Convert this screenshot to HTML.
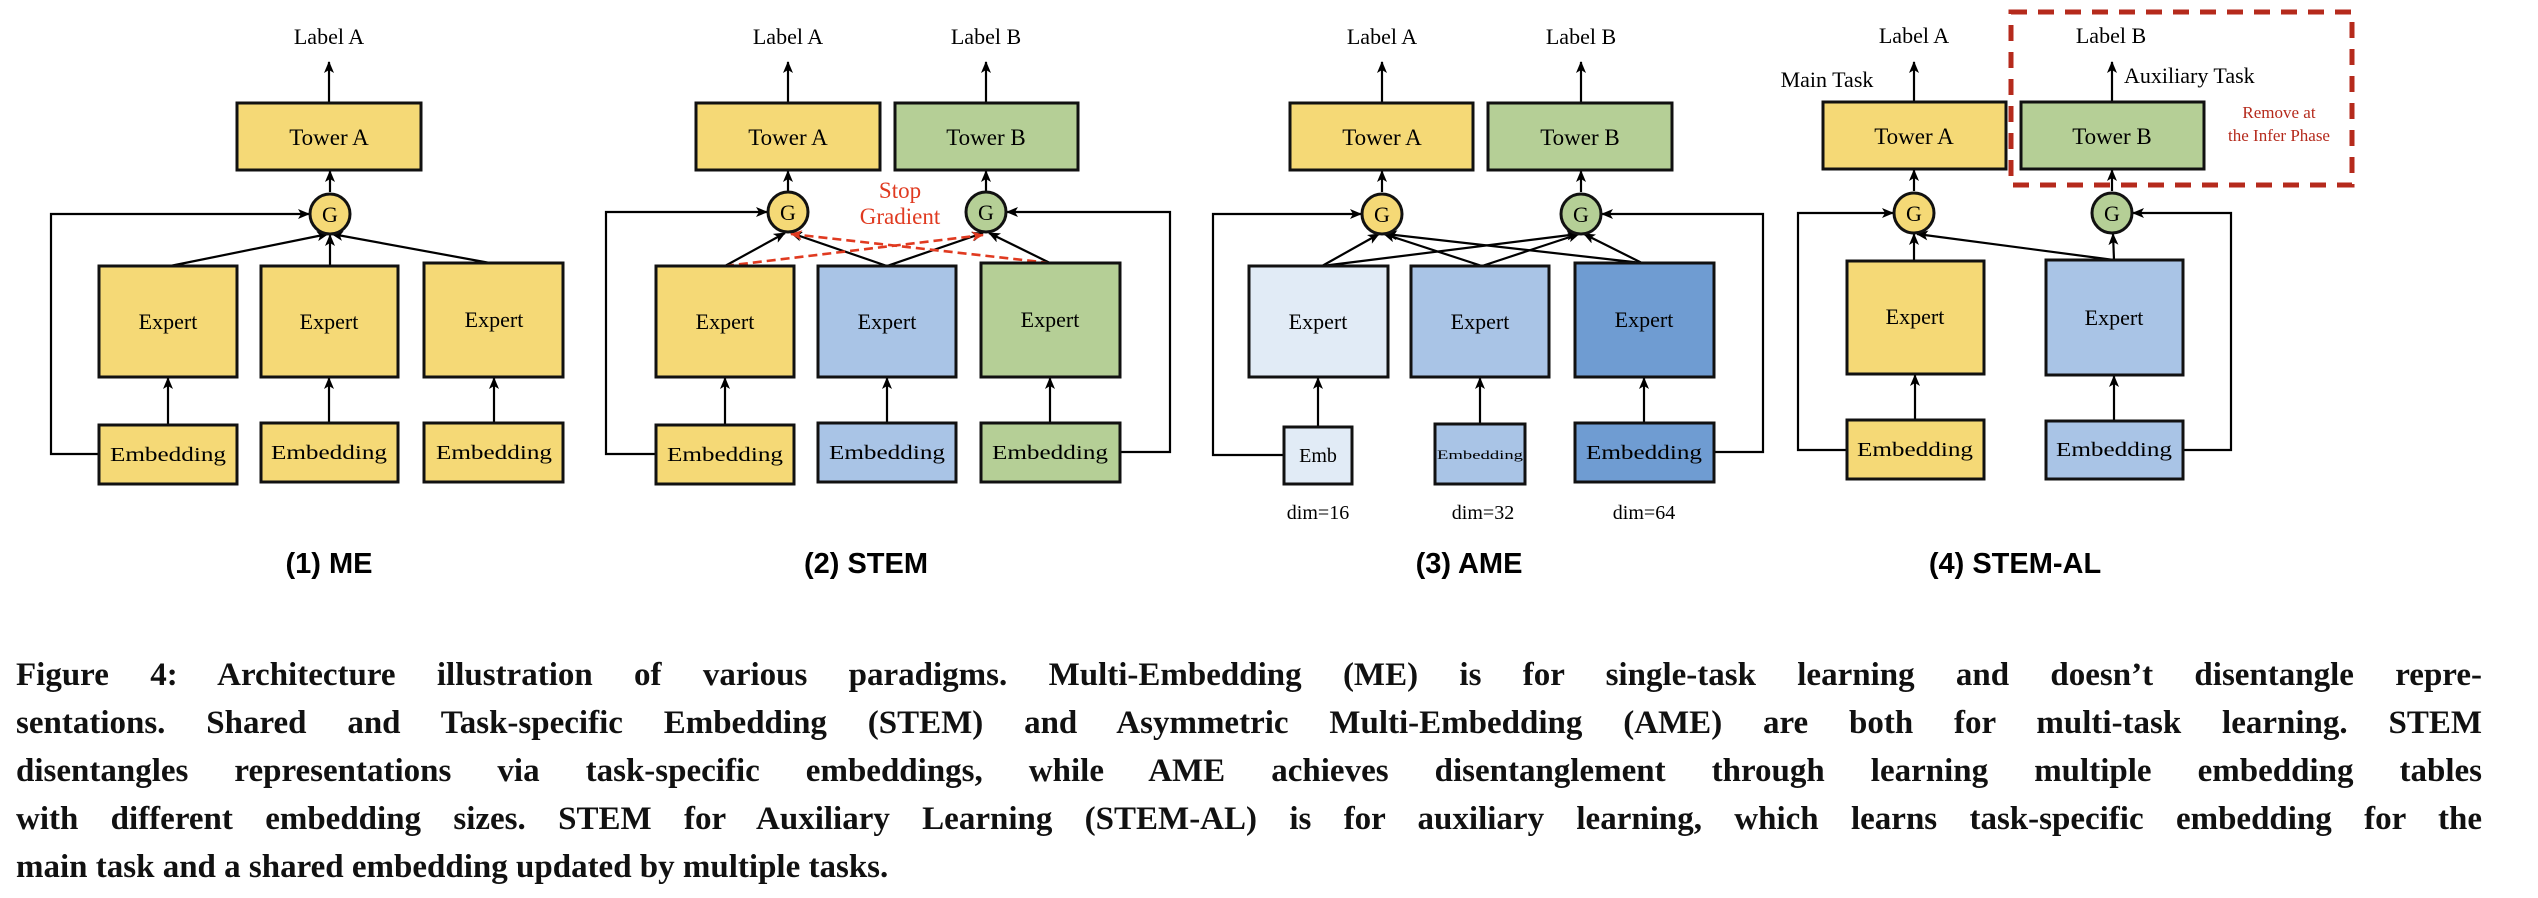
<!DOCTYPE html>
<html><head><meta charset="utf-8"><style>
body{margin:0;background:#fff;width:2538px;height:898px;overflow:hidden;position:relative}
svg{position:absolute;left:0;top:0}
.cap{position:absolute;left:16px;width:2466px;font-family:"Liberation Serif",serif;font-weight:bold;font-size:33px;white-space:nowrap;text-align:justify;text-align-last:justify;color:#111}
</style></head><body>
<svg width="2538" height="898" viewBox="0 0 2538 898" xmlns="http://www.w3.org/2000/svg">
<defs>
<marker id="a" viewBox="0 0 12 10" refX="11" refY="5" markerWidth="12" markerHeight="10" markerUnits="userSpaceOnUse" orient="auto"><path d="M0,0 L12,5 L0,10 L3,5 z" fill="#000"/></marker>
<marker id="r" viewBox="0 0 12 10" refX="11" refY="5" markerWidth="12" markerHeight="10" markerUnits="userSpaceOnUse" orient="auto"><path d="M0,0 L12,5 L0,10 L3,5 z" fill="#e03a20"/></marker>
</defs>
<g font-family="Liberation Serif, serif" text-anchor="middle" fill="#000">
<g stroke="#000" stroke-width="2.2" fill="none">
<!-- Panel 1 -->
<line x1="329" y1="103" x2="329" y2="62" marker-end="url(#a)"/>
<line x1="330" y1="192" x2="330" y2="171" marker-end="url(#a)"/>
<polyline points="99,454 51,454 51,214 309,214" marker-end="url(#a)"/>
<line x1="170" y1="266" x2="328" y2="234" marker-end="url(#a)"/>
<line x1="330" y1="266" x2="330" y2="235" marker-end="url(#a)"/>
<line x1="490" y1="263" x2="332" y2="234" marker-end="url(#a)"/>
<line x1="168" y1="425" x2="168" y2="378" marker-end="url(#a)"/>
<line x1="329" y1="423" x2="329" y2="378" marker-end="url(#a)"/>
<line x1="494" y1="423" x2="494" y2="378" marker-end="url(#a)"/>
<!-- Panel 2 -->
<line x1="788" y1="103" x2="788" y2="62" marker-end="url(#a)"/>
<line x1="986" y1="103" x2="986" y2="62" marker-end="url(#a)"/>
<line x1="788" y1="192" x2="788" y2="171" marker-end="url(#a)"/>
<line x1="986" y1="192" x2="986" y2="171" marker-end="url(#a)"/>
<polyline points="656,454 606,454 606,212 767,212" marker-end="url(#a)"/>
<polyline points="1120,452 1170,452 1170,212 1007,212" marker-end="url(#a)"/>
<line x1="725" y1="266" x2="785" y2="233" marker-end="url(#a)"/>
<line x1="887" y1="266" x2="791" y2="233" marker-end="url(#a)"/>
<line x1="887" y1="266" x2="983" y2="233" marker-end="url(#a)"/>
<line x1="1050" y1="263" x2="989" y2="233" marker-end="url(#a)"/>
<line x1="725" y1="425" x2="725" y2="378" marker-end="url(#a)"/>
<line x1="887" y1="423" x2="887" y2="378" marker-end="url(#a)"/>
<line x1="1050" y1="423" x2="1050" y2="378" marker-end="url(#a)"/>
<!-- Panel 3 -->
<line x1="1382" y1="103" x2="1382" y2="62" marker-end="url(#a)"/>
<line x1="1581" y1="103" x2="1581" y2="62" marker-end="url(#a)"/>
<line x1="1382" y1="192" x2="1382" y2="171" marker-end="url(#a)"/>
<line x1="1581" y1="192" x2="1581" y2="171" marker-end="url(#a)"/>
<polyline points="1284,455 1213,455 1213,214 1361,214" marker-end="url(#a)"/>
<polyline points="1714,452 1763,452 1763,214 1602,214" marker-end="url(#a)"/>
<line x1="1322" y1="266" x2="1379" y2="234" marker-end="url(#a)"/>
<line x1="1322" y1="266" x2="1578" y2="234" marker-end="url(#a)"/>
<line x1="1482" y1="266" x2="1384" y2="234" marker-end="url(#a)"/>
<line x1="1482" y1="266" x2="1579" y2="234" marker-end="url(#a)"/>
<line x1="1642" y1="263" x2="1386" y2="234" marker-end="url(#a)"/>
<line x1="1642" y1="263" x2="1584" y2="234" marker-end="url(#a)"/>
<line x1="1318" y1="427" x2="1318" y2="378" marker-end="url(#a)"/>
<line x1="1480" y1="424" x2="1480" y2="378" marker-end="url(#a)"/>
<line x1="1644" y1="423" x2="1644" y2="378" marker-end="url(#a)"/>
<!-- Panel 4 -->
<line x1="1914" y1="102" x2="1914" y2="62" marker-end="url(#a)"/>
<line x1="2112" y1="102" x2="2112" y2="62" marker-end="url(#a)"/>
<line x1="1914" y1="191" x2="1914" y2="170" marker-end="url(#a)"/>
<line x1="2112" y1="191" x2="2112" y2="170" marker-end="url(#a)"/>
<polyline points="1847,450 1798,450 1798,213 1893,213" marker-end="url(#a)"/>
<polyline points="2183,450 2231,450 2231,213 2133,213" marker-end="url(#a)"/>
<line x1="1914" y1="261" x2="1914" y2="234" marker-end="url(#a)"/>
<line x1="2114" y1="260" x2="1917" y2="234" marker-end="url(#a)"/>
<line x1="2114" y1="260" x2="2113" y2="234" marker-end="url(#a)"/>
<line x1="1915" y1="420" x2="1915" y2="375" marker-end="url(#a)"/>
<line x1="2114" y1="421" x2="2114" y2="376" marker-end="url(#a)"/>
</g>
<!-- red dashed stop gradient -->
<g stroke="#e03a20" stroke-width="2.6" stroke-dasharray="9,5" fill="none">
<line x1="725" y1="266" x2="983" y2="235" marker-end="url(#r)"/>
<line x1="1050" y1="263" x2="791" y2="234" marker-end="url(#r)"/>
</g>
<!-- boxes -->
<g stroke="#111" stroke-width="3">
<rect x="237" y="103" width="184" height="67" fill="#f5d976"/>
<rect x="99" y="266" width="138" height="111" fill="#f5d976"/>
<rect x="261" y="266" width="137" height="111" fill="#f5d976"/>
<rect x="424" y="263" width="139" height="114" fill="#f5d976"/>
<rect x="99" y="425" width="138" height="59" fill="#f5d976"/>
<rect x="261" y="423" width="137" height="59" fill="#f5d976"/>
<rect x="424" y="423" width="139" height="59" fill="#f5d976"/>
<rect x="696" y="103" width="184" height="67" fill="#f5d976"/>
<rect x="895" y="103" width="183" height="67" fill="#b5cf96"/>
<rect x="656" y="266" width="138" height="111" fill="#f5d976"/>
<rect x="818" y="266" width="138" height="111" fill="#a9c4e6"/>
<rect x="981" y="263" width="139" height="114" fill="#b5cf96"/>
<rect x="656" y="425" width="138" height="59" fill="#f5d976"/>
<rect x="818" y="423" width="138" height="59" fill="#a9c4e6"/>
<rect x="981" y="423" width="139" height="59" fill="#b5cf96"/>
<rect x="1290" y="103" width="183" height="67" fill="#f5d976"/>
<rect x="1488" y="103" width="184" height="67" fill="#b5cf96"/>
<rect x="1249" y="266" width="139" height="111" fill="#e1ebf6"/>
<rect x="1411" y="266" width="138" height="111" fill="#a9c4e6"/>
<rect x="1575" y="263" width="139" height="114" fill="#6f9cd2"/>
<rect x="1284" y="427" width="68" height="57" fill="#e1ebf6"/>
<rect x="1435" y="424" width="90" height="60" fill="#a9c4e6"/>
<rect x="1575" y="423" width="139" height="59" fill="#6f9cd2"/>
<rect x="1823" y="102" width="183" height="67" fill="#f5d976"/>
<rect x="2021" y="102" width="183" height="67" fill="#b5cf96"/>
<rect x="1847" y="261" width="137" height="113" fill="#f5d976"/>
<rect x="2046" y="260" width="137" height="115" fill="#a9c4e6"/>
<rect x="1847" y="420" width="137" height="59" fill="#f5d976"/>
<rect x="2046" y="421" width="137" height="58" fill="#a9c4e6"/>
<circle cx="330" cy="214" r="20" fill="#f5d976"/>
<circle cx="788" cy="212" r="20" fill="#f5d976"/>
<circle cx="986" cy="212" r="20" fill="#b5cf96"/>
<circle cx="1382" cy="214" r="20" fill="#f5d976"/>
<circle cx="1581" cy="214" r="20" fill="#b5cf96"/>
<circle cx="1914" cy="213" r="20" fill="#f5d976"/>
<circle cx="2112" cy="213" r="20" fill="#b5cf96"/>
</g>
<rect x="2011" y="12" width="341" height="173" fill="none" stroke="#b52a1c" stroke-width="5" stroke-dasharray="16,11"/>
<!-- texts -->
<g font-size="22">
<text x="329" y="44">Label A</text>
<text x="788" y="44">Label A</text><text x="986" y="44">Label B</text>
<text x="1382" y="44">Label A</text><text x="1581" y="44">Label B</text>
<text x="1914" y="43">Label A</text><text x="2111" y="43">Label B</text>
<text x="1827" y="87">Main Task</text>
<text x="2124" y="83" text-anchor="start">Auxiliary Task</text>
</g>
<g font-size="23">
<text x="329" y="145">Tower A</text>
<text x="788" y="145">Tower A</text><text x="986" y="145">Tower B</text>
<text x="1382" y="145">Tower A</text><text x="1580" y="145">Tower B</text>
<text x="1914" y="144">Tower A</text><text x="2112" y="144">Tower B</text>
</g>
<g font-size="22">
<text x="330" y="222">G</text><text x="788" y="220">G</text><text x="986" y="220">G</text>
<text x="1382" y="222">G</text><text x="1581" y="222">G</text>
<text x="1914" y="221">G</text><text x="2112" y="221">G</text>
<text x="168" y="329">Expert</text><text x="329" y="329">Expert</text><text x="494" y="327">Expert</text>
<text x="725" y="329">Expert</text><text x="887" y="329">Expert</text><text x="1050" y="327">Expert</text>
<text x="1318" y="329">Expert</text><text x="1480" y="329">Expert</text><text x="1644" y="327">Expert</text>
<text x="1915" y="324">Expert</text><text x="2114" y="325">Expert</text>
</g>
<g font-size="20">
<text x="168" y="461" textLength="116" lengthAdjust="spacingAndGlyphs">Embedding</text>
<text x="329" y="459" textLength="116" lengthAdjust="spacingAndGlyphs">Embedding</text>
<text x="494" y="459" textLength="116" lengthAdjust="spacingAndGlyphs">Embedding</text>
<text x="725" y="461" textLength="116" lengthAdjust="spacingAndGlyphs">Embedding</text>
<text x="887" y="459" textLength="116" lengthAdjust="spacingAndGlyphs">Embedding</text>
<text x="1050" y="459" textLength="116" lengthAdjust="spacingAndGlyphs">Embedding</text>
<text x="1318" y="462">Emb</text>
<text x="1480" y="459" font-size="13" textLength="86" lengthAdjust="spacingAndGlyphs">Embedding</text>
<text x="1644" y="459" textLength="116" lengthAdjust="spacingAndGlyphs">Embedding</text>
<text x="1915" y="456" textLength="116" lengthAdjust="spacingAndGlyphs">Embedding</text>
<text x="2114" y="456" textLength="116" lengthAdjust="spacingAndGlyphs">Embedding</text>
<text x="1318" y="519">dim=16</text><text x="1483" y="519">dim=32</text><text x="1644" y="519">dim=64</text>
</g>
<g font-size="23" fill="#e03a20">
<text x="900" y="198">Stop</text><text x="900" y="224">Gradient</text>
</g>
<g font-size="17" fill="#b52a1c">
<text x="2279" y="118">Remove at</text><text x="2279" y="141">the Infer Phase</text>
</g>
<g font-family="Liberation Sans, sans-serif" font-weight="bold" font-size="29">
<text x="329" y="573">(1) ME</text>
<text x="866" y="573">(2) STEM</text>
<text x="1469" y="573">(3) AME</text>
<text x="2015" y="573">(4) STEM-AL</text>
</g>
</g>
</svg>
<div class="cap" style="top:657px">Figure 4: Architecture illustration of various paradigms. Multi-Embedding (ME) is for single-task learning and doesn’t disentangle repre-</div>
<div class="cap" style="top:705px">sentations. Shared and Task-specific Embedding (STEM) and Asymmetric Multi-Embedding (AME) are both for multi-task learning. STEM</div>
<div class="cap" style="top:753px">disentangles representations via task-specific embeddings, while AME achieves disentanglement through learning multiple embedding tables</div>
<div class="cap" style="top:801px">with different embedding sizes. STEM for Auxiliary Learning (STEM-AL) is for auxiliary learning, which learns task-specific embedding for the</div>
<div class="cap" style="top:849px;text-align:left;text-align-last:left">main task and a shared embedding updated by multiple tasks.</div>
</body></html>
